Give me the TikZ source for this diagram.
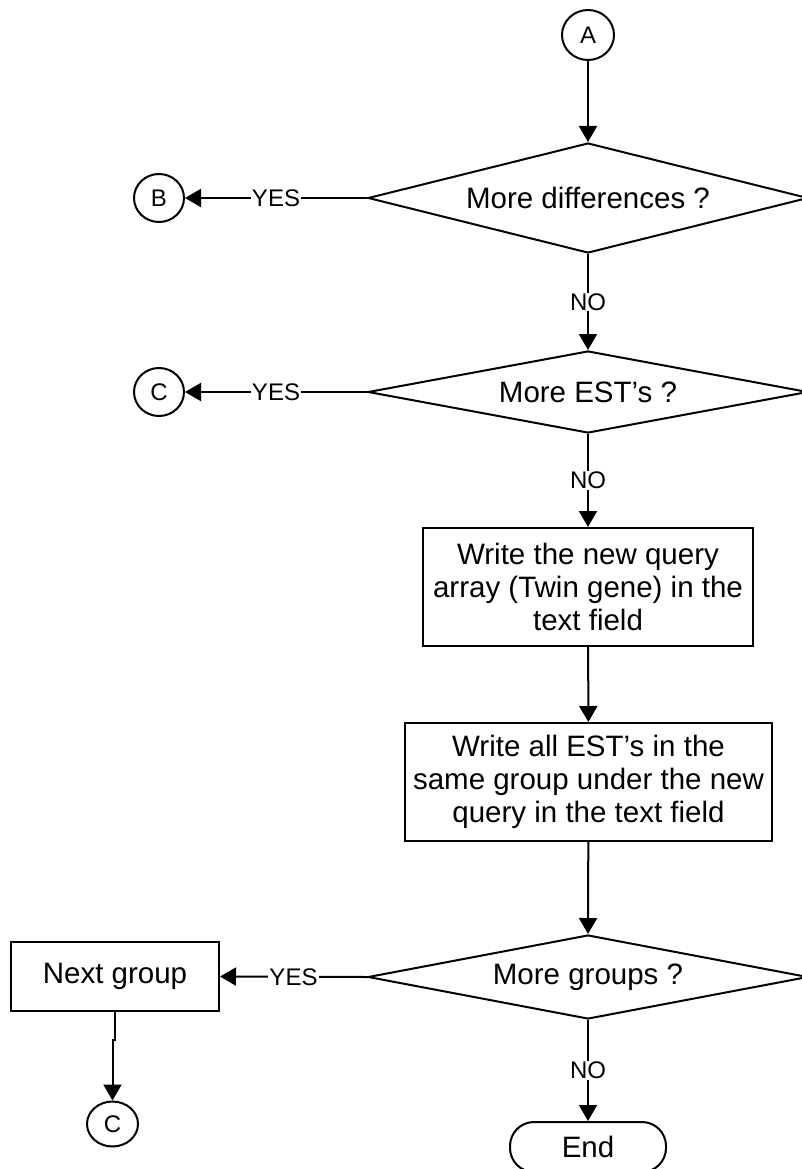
\documentclass[tikz,border=0pt]{standalone}
\usepackage{fontspec}
\setmainfont{Liberation Sans}
\usetikzlibrary{shapes.geometric,arrows.meta,calc}
\begin{document}
\begin{tikzpicture}[x=1pt,y=-1pt,
  line width=2pt,
  every node/.style={font=\fontsize{29.5}{33}\selectfont, text=black},
  decision/.style={draw, diamond, aspect=4, inner sep=0pt,
    minimum width=440pt, minimum height=#1},
  process/.style={draw, rectangle, align=center, inner sep=0pt},
  connector/.style={draw, ellipse, inner sep=0pt,
    font=\fontsize{24}{26}\selectfont},
  terminal/.style={draw, rectangle, rounded corners=24pt, inner sep=0pt,
    minimum width=156pt, minimum height=50pt},
  flow/.style={-{Triangle[length=16pt,width=18pt]}},
  lab/.style={fill=white, inner sep=1pt, font=\fontsize{24}{26}\selectfont}
]
\useasboundingbox (0,0) rectangle (801,1169);

% off-page connectors
\node[connector, minimum width=52pt, minimum height=50pt] (A) at (588,35) {A};
\node[connector, minimum width=50pt, minimum height=48pt] (B) at (159,198) {B};
\node[connector, minimum width=50pt, minimum height=48pt] (C1) at (159,392) {C};
\node[connector, minimum width=51pt, minimum height=45pt] (C2) at (112.5,1124) {C};

% decisions
\node[decision=110pt] (d1) at (588,198) {More differences ?};
\node[decision=82pt] (d2) at (588,392) {More EST's ?};
\node[decision=84pt] (d3) at (588,977) {More groups ?};

% processing steps
\node[process, minimum width=330pt, minimum height=118pt] (w1) at (588,587)
  {Write the new query\\array (Twin gene) in the\\text field};
\node[process, minimum width=367pt, minimum height=118pt] (w2) at (588.5,782)
  {Write all EST's in the\\same group under the new\\query in the text field};
\node[process, minimum width=208pt, minimum height=69pt] (ng) at (115,976.5)
  {Next group};

% end
\node[terminal] (end) at (588,1147) {End};

% connections
\draw[flow] (A) -- (d1);
\draw[flow] (d1.west) -- node[lab] {YES} (B);
\draw[flow] (d1.south) -- node[lab] {NO} (d2.north);
\draw[flow] (d2.west) -- node[lab] {YES} (C1);
\draw[flow] (d2.south) -- node[lab] {NO} (w1.north);
\draw[flow] (w1) -- (w2);
\draw[flow] (w2) -- (d3.north);
\draw[flow] (d3.west) -- node[lab] {YES} (ng.east);
\draw[flow] (d3.south) -- node[lab] {NO} (end.north);

\coordinate (jog) at (112.5,1040);
\draw[flow] (ng.south) -- (ng.south |- jog) -- (jog) -- (C2);
\end{tikzpicture}
\end{document}
